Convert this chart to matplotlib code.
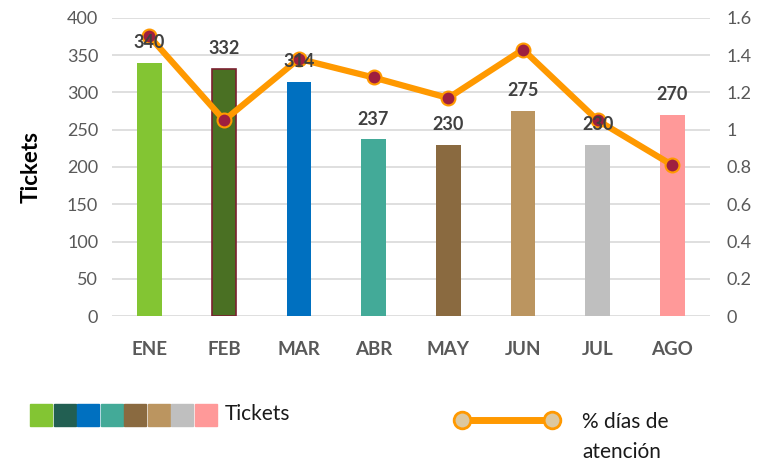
import matplotlib.pyplot as plt
from matplotlib.patches import Rectangle
from matplotlib.lines import Line2D

months = ['ENE', 'FEB', 'MAR', 'ABR', 'MAY', 'JUN', 'JUL', 'AGO']
tickets = [340, 332, 314, 237, 230, 275, 230, 270]
pct_dias = [1.50, 1.05, 1.38, 1.28, 1.17, 1.43, 1.05, 0.81]
bar_colors = ['#83C533', '#4A7023', '#0070C0', '#43AA98',
              '#8A6A40', '#BB9560', '#BFBFBF', '#FF9999']
legend_colors = ['#83C533', '#225F52', '#0070C0', '#43AA98',
                 '#8A6A40', '#BB9560', '#BFBFBF', '#FF9999']

plt.rcParams['font.family'] = ['Lato', 'DejaVu Sans']
gray = '#595959'

fig = plt.figure(figsize=(7.68, 4.69), dpi=100)
ax = fig.add_axes([0.146, 0.326, 0.778, 0.636])
x = range(len(months))

bars = ax.bar(x, tickets, width=0.33, color=bar_colors, zorder=2)
bars[1].set_edgecolor('#7B2030')
bars[1].set_linewidth(1.2)

ax.set_ylim(0, 400)
ax.set_xlim(-0.5, len(months) - 0.5)
ax.set_yticks(range(0, 401, 50))
ax.grid(axis='y', color='#D9D9D9', linewidth=1.2, zorder=0)
ax.set_xticks(list(x))
ax.set_xticklabels(months, fontweight='bold')
ax.tick_params(axis='x', length=0, pad=18, labelsize=13.5, labelcolor=gray)
ax.tick_params(axis='y', length=0, pad=10, labelsize=13, labelcolor=gray)
for s in ax.spines.values():
    s.set_visible(False)
ax.set_ylabel('Tickets', fontsize=16, fontweight='bold', labelpad=18)

ax2 = ax.twinx()
ax2.plot(x, pct_dias, color='#FF9900', linewidth=4.5, marker='o',
         markersize=10, markerfacecolor='#9E1F3F', markeredgecolor='#FF9900',
         markeredgewidth=1.5, zorder=4)
ax2.set_ylim(0, 1.6)
ax2.set_yticks([0, 0.2, 0.4, 0.6, 0.8, 1.0, 1.2, 1.4, 1.6])
ax2.set_yticklabels(['0', '0.2', '0.4', '0.6', '0.8', '1', '1.2', '1.4', '1.6'])
ax2.tick_params(axis='y', length=0, pad=12, labelsize=13, labelcolor=gray)
for s in ax2.spines.values():
    s.set_visible(False)

# bar value labels above the line
for i, v in enumerate(tickets):
    ax2.text(i, v + 27, str(v), transform=ax.transData, ha='center', va='center',
             fontsize=13, fontweight='bold', color='#404040', zorder=6)

# legend
sw = 22 / 768
sh = 22 / 469
for i, c in enumerate(legend_colors):
    fig.patches.append(Rectangle((30 / 768 + i * 23.5 / 768, 1 - 426 / 469), sw, sh,
                                 color=c, transform=fig.transFigure, figure=fig))
fig.text(225 / 768, 1 - 414 / 469, 'Tickets', fontsize=15, va='center', color='#1a1a1a')
fig.lines.append(Line2D([462 / 768, 552 / 768], [1 - 420 / 469, 1 - 420 / 469],
                        color='#FF9900', linewidth=5, marker='o', markersize=12,
                        markerfacecolor='#DCC8A0', markeredgecolor='#FF9900',
                        markeredgewidth=2, transform=fig.transFigure, figure=fig))
fig.text(582 / 768, 1 - 437 / 469, '% días de\natención', fontsize=15, va='center',
         color='#1a1a1a', linespacing=1.6)

fig.savefig('out.png', dpi=100)
